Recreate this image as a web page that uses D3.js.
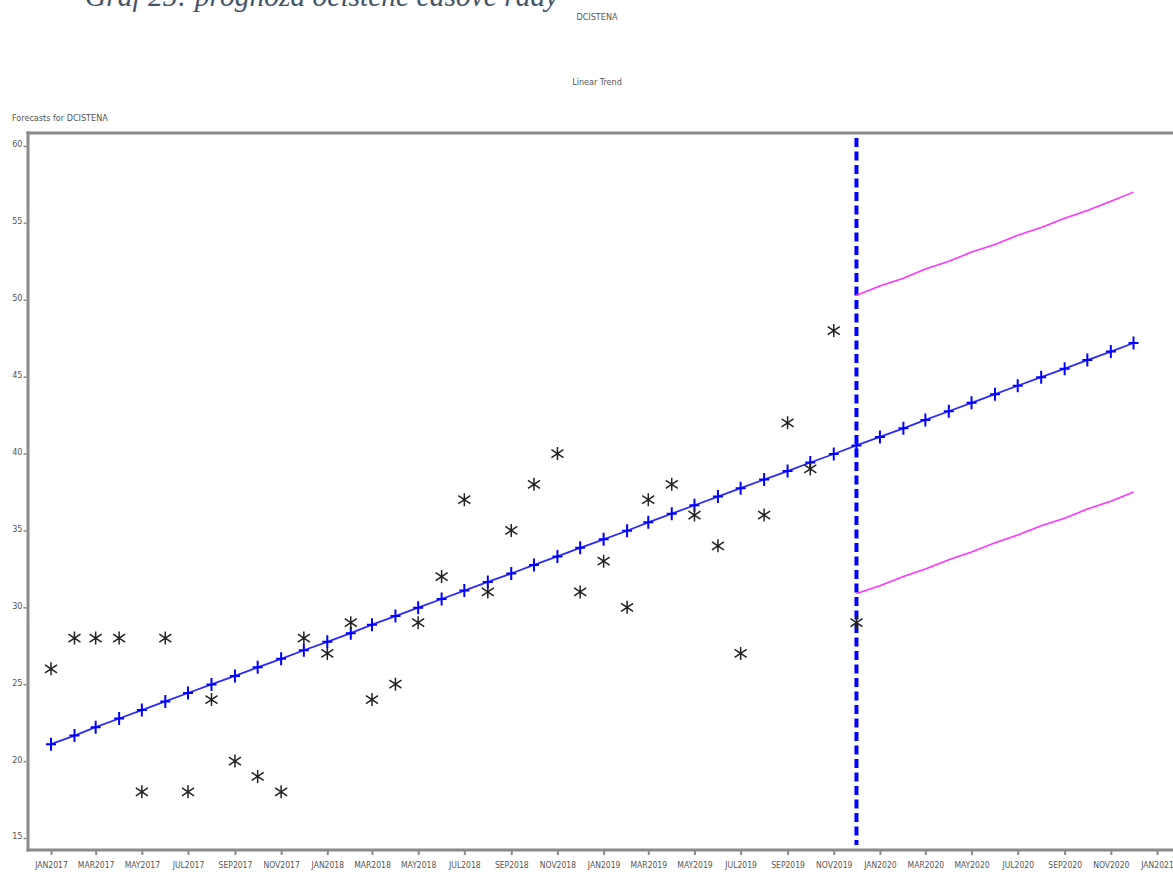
<!DOCTYPE html>
<html>
<head>
<meta charset="utf-8">
<script src="https://cdn.jsdelivr.net/npm/d3@7"></script>
<style>
  body { margin: 0; background: #fff; }
  svg { display: block; }
  .sas { font-family: "DejaVu Sans Condensed", "Liberation Sans Narrow", sans-serif; fill: #555; }
</style>
</head>
<body>
<svg id="chart" width="1173" height="872"></svg>
<script>
// Observed monthly values of DCISTENA, Jan 2017 - Dec 2019
const actual = [26, 28, 28, 28, 18, 28, 18, 24, 20, 19, 18, 28,
                27, 29, 24, 25, 29, 32, 37, 31, 35, 38, 40, 31,
                33, 30, 37, 38, 36, 34, 27, 36, 42, 39, 48, 29];

// Linear trend fit and forecast, Jan 2017 - Dec 2020
const trend = [21.10, 21.66, 22.21, 22.77, 23.32, 23.88, 24.43, 24.99, 25.54, 26.10, 26.65, 27.21,
               27.76, 28.32, 28.87, 29.43, 29.98, 30.54, 31.09, 31.65, 32.20, 32.76, 33.31, 33.87,
               34.42, 34.98, 35.53, 36.09, 36.64, 37.20, 37.75, 38.31, 38.86, 39.42, 39.97, 40.53,
               41.08, 41.64, 42.19, 42.75, 43.30, 43.86, 44.41, 44.97, 45.52, 46.08, 46.63, 47.19];

// Confidence limits of the forecast, Dec 2019 - Dec 2020
const upper = [50.3, 50.9, 51.4, 52.0, 52.5, 53.1, 53.6, 54.2, 54.7, 55.3, 55.8, 56.4, 57.0];
const lower = [30.9, 31.4, 32.0, 32.5, 33.1, 33.6, 34.2, 34.7, 35.3, 35.8, 36.4, 36.9, 37.5];

const yTicks = [15, 20, 25, 30, 35, 40, 45, 50, 55, 60];

const firstMonth = new Date(2017, 0, 1);
const months = d3.timeMonth.range(firstMonth, new Date(2021, 0, 1));   // 48 months
const forecastStart = months[actual.length - 1];                         // Dec 2019
const xTicks = d3.timeMonth.every(2).range(firstMonth, new Date(2021, 0, 2));

const svg = d3.select("#chart");

const x = d3.scaleTime().domain([firstMonth, new Date(2021, 0, 1)]).range([51, 1157]);
const y = d3.scaleLinear().domain([15, 60]).range([838, 146]);

// Titles
svg.append("text")
  .attr("x", 85).attr("y", 6)
  .style("font-family", "'Liberation Serif', 'DejaVu Serif', serif")
  .style("font-style", "italic")
  .style("font-size", "29.5px")
  .style("fill", "#44546a")
  .text("Graf 25: prognóza očistené časové rady");

svg.append("text").attr("class", "sas").attr("x", 597).attr("y", 20)
  .attr("text-anchor", "middle").style("font-size", "9px").text("DCISTENA");
svg.append("text").attr("class", "sas").attr("x", 597).attr("y", 85)
  .attr("text-anchor", "middle").style("font-size", "9px").text("Linear Trend");
svg.append("text").attr("class", "sas").attr("x", 12).attr("y", 121)
  .style("font-size", "9px").text("Forecasts for DCISTENA");

// Frame
const frame = svg.append("g").attr("stroke", "#8a8a8a").attr("stroke-width", 3);
frame.append("line").attr("x1", 26.5).attr("x2", 1180).attr("y1", 133).attr("y2", 133);
frame.append("line").attr("x1", 26.5).attr("x2", 1180).attr("y1", 850).attr("y2", 850);
frame.append("line").attr("x1", 28).attr("x2", 28).attr("y1", 131.5).attr("y2", 851.5);

// Axes
const yAxis = svg.append("g")
  .attr("transform", "translate(26.5,0)")
  .call(d3.axisLeft(y).tickValues(yTicks).tickSize(3).tickPadding(1).tickFormat(d3.format("d")));
yAxis.select(".domain").remove();
yAxis.selectAll("line").attr("stroke", "#8a8a8a").attr("stroke-width", 1.5);
yAxis.selectAll("text").attr("class", "sas").attr("dy", "0.1em")
  .style("font-size", "9px").style("fill", "#555");

const fmt = d3.timeFormat("%b%Y");
const xAxis = svg.append("g")
  .attr("transform", "translate(0,851)")
  .call(d3.axisBottom(x).tickValues(xTicks).tickSize(4).tickPadding(7)
    .tickFormat(d => fmt(d).toUpperCase()));
xAxis.select(".domain").remove();
xAxis.selectAll("line").attr("stroke", "#8a8a8a").attr("stroke-width", 2);
xAxis.selectAll("text").attr("class", "sas").style("font-size", "8.5px").style("fill", "#555");

// Forecast boundary
svg.append("line")
  .attr("x1", x(forecastStart)).attr("x2", x(forecastStart))
  .attr("y1", 138).attr("y2", 845)
  .attr("stroke", "#0000ff").attr("stroke-width", 4)
  .attr("stroke-dasharray", "9,4.5");

// Confidence limits
const limitMonths = months.slice(actual.length - 1);
const limitLine = d3.line().x((d, i) => x(limitMonths[i])).y(d => y(d));
[upper, lower].forEach(series => {
  svg.append("path").datum(series)
    .attr("d", limitLine)
    .attr("fill", "none").attr("stroke", "#ff33ff").attr("stroke-width", 1.6);
});

// Trend line with plus markers
const trendLine = d3.line().x((d, i) => x(months[i])).y(d => y(d));
svg.append("path").datum(trend)
  .attr("d", trendLine)
  .attr("fill", "none").attr("stroke", "#2a2aff").attr("stroke-width", 1.8);

svg.append("g").selectAll("path").data(trend).join("path")
  .attr("transform", (d, i) => `translate(${x(months[i])},${y(d)})`)
  .attr("d", "M-5,0H5M0,-6.5V6.5")
  .attr("stroke", "#0000ff").attr("stroke-width", 2);

// Observed values as asterisks
svg.append("g").selectAll("path").data(actual).join("path")
  .attr("transform", (d, i) => `translate(${x(months[i])},${y(d)})`)
  .attr("d", "M0,-6.5V6.5M-6,-4L6,4M-6,4L6,-4")
  .attr("stroke", "#222").attr("stroke-width", 1.5).attr("fill", "none");
</script>
</body>
</html>
